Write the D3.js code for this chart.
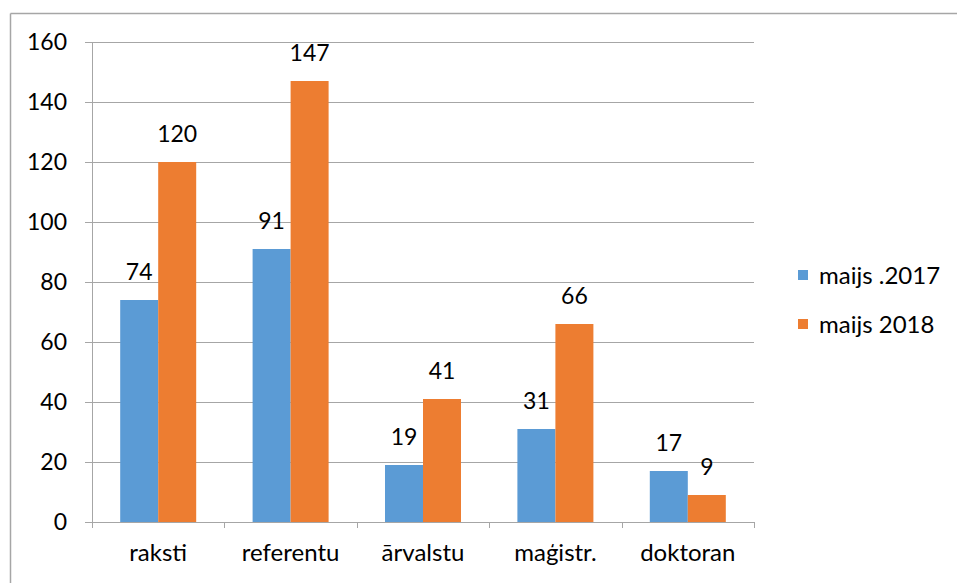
<!DOCTYPE html>
<html><head><meta charset="utf-8">
<script src="https://cdn.jsdelivr.net/npm/d3@7"></script>
<style>body{margin:0;background:#fff}svg{display:block}text{font-family:Lato,"Open Sans",sans-serif;fill:#000}</style>
</head><body><svg id="c" width="957" height="583"></svg>
<script>
const categories = ["raksti","referentu","ārvalstu","maģistr.","doktoran"];
const seriesNames = ["maijs .2017","maijs 2018"];
const values2017 = [74,91,19,31,17];
const values2018 = [120,147,41,66,9];
const yTicks = [0,20,40,60,80,100,120,140,160];
const colors = ["#5B9BD5","#ED7D31"];

const svg = d3.select("#c");
// outer border
svg.append("line").attr("x1",10.5).attr("x2",10.5).attr("y1",13.5).attr("y2",583).attr("stroke","#a6a6a6").attr("stroke-width",1.5);
svg.append("line").attr("x1",10.5).attr("x2",957).attr("y1",13.5).attr("y2",13.5).attr("stroke","#a6a6a6").attr("stroke-width",1.5);

const L=92, R=754, T=42, B=522;
const x = d3.scaleBand().domain(categories).range([L,R]);
const y = d3.scaleLinear().domain([0,160]).range([B,T]);
const barW = 38;

const g = svg.append("g");
g.selectAll(".grid").data(yTicks).enter().append("line")
 .attr("x1",L-7).attr("x2",R).attr("y1",d=>Math.round(y(d))+0.5).attr("y2",d=>Math.round(y(d))+0.5)
 .attr("stroke","#a6a6a6").attr("stroke-width",1);
g.append("line").attr("x1",L+0.5).attr("x2",L+0.5).attr("y1",T).attr("y2",B+6).attr("stroke","#a6a6a6");
const bounds = categories.map(c=>x(c)).concat([R]);
g.selectAll(".ct").data(bounds).enter().append("line")
 .attr("x1",d=>Math.round(d)+0.5).attr("x2",d=>Math.round(d)+0.5).attr("y1",B).attr("y2",B+6).attr("stroke","#a6a6a6");
g.selectAll(".yl").data(yTicks).enter().append("text")
 .attr("x",67).attr("y",d=>y(d)+8).attr("text-anchor","end").attr("font-size",23).text(d=>d);
g.selectAll(".xl").data(categories).enter().append("text")
 .attr("x",d=>x(d)+x.bandwidth()/2).attr("y",561).attr("text-anchor","middle").attr("font-size",24).text(d=>d);

const series=[values2017,values2018];
series.forEach((vals,si)=>{
  g.selectAll(".b"+si).data(vals).enter().append("rect")
   .attr("x",(d,i)=>x(categories[i])+x.bandwidth()/2-barW+si*barW)
   .attr("y",d=>y(d)).attr("width",barW).attr("height",d=>B-y(d)).attr("fill",colors[si]);
  g.selectAll(".l"+si).data(vals).enter().append("text")
   .attr("x",(d,i)=>x(categories[i])+x.bandwidth()/2-barW/2+si*barW)
   .attr("y",d=>y(d)-20).attr("text-anchor","middle").attr("font-size",23).text(d=>d);
});

const lg = svg.append("g");
seriesNames.forEach((n,i)=>{
  lg.append("rect").attr("x",798).attr("y",270+i*49).attr("width",10).attr("height",10).attr("fill",colors[i]);
  lg.append("text").attr("x",819).attr("y",284+i*49).attr("font-size",24).text(n);
});
</script></body></html>
